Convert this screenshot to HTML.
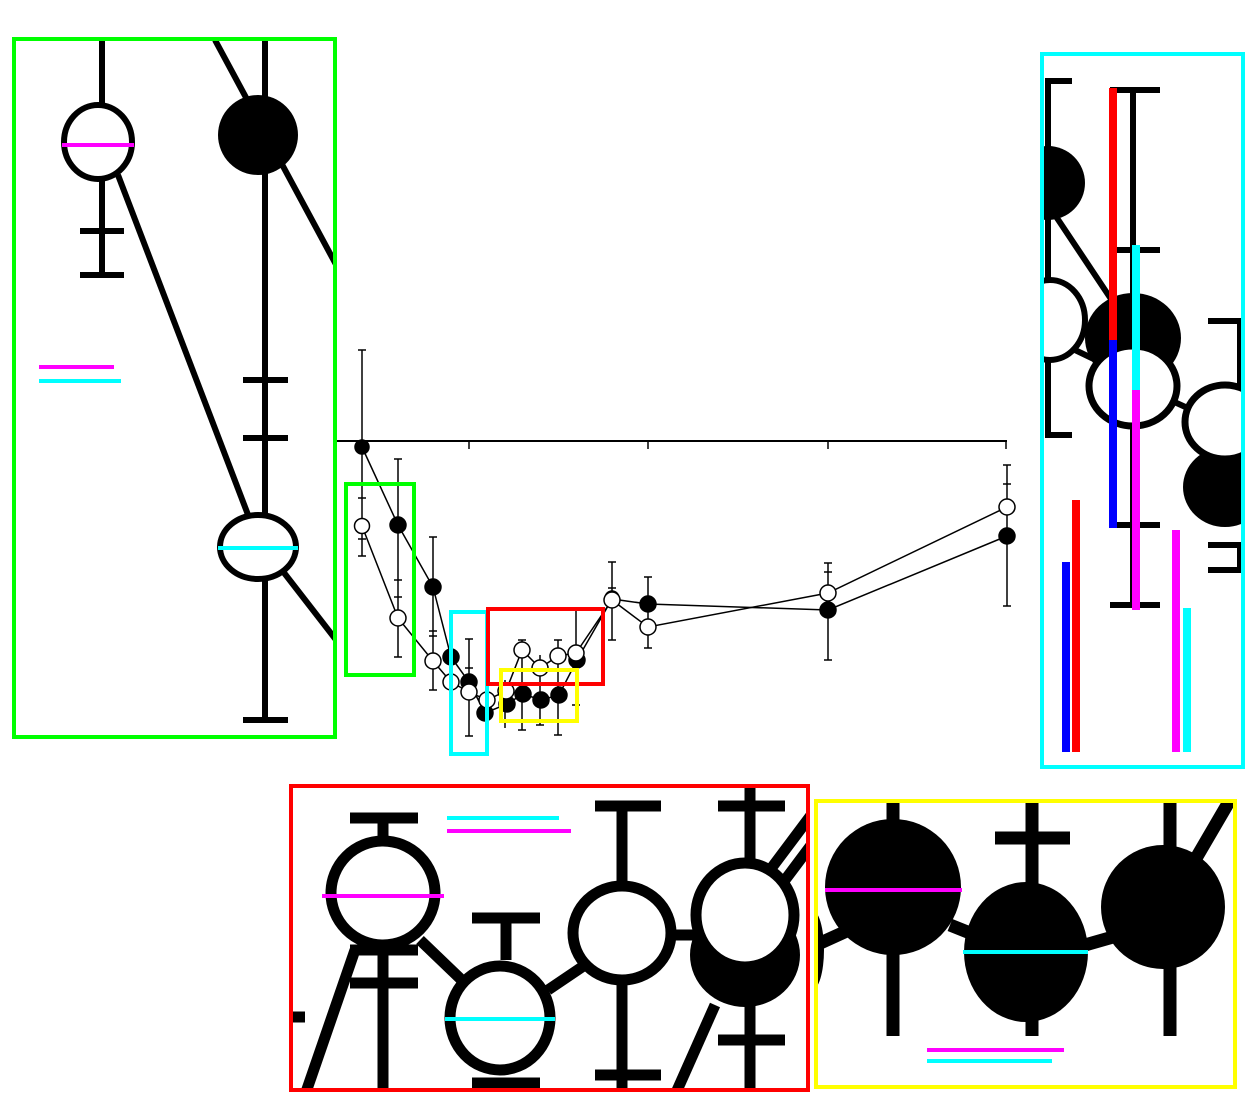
<!DOCTYPE html>
<html><head><meta charset="utf-8"><style>html,body{margin:0;padding:0;background:#fff;}svg{display:block}</style></head>
<body>
<svg width="1260" height="1109" viewBox="0 0 1260 1109" xmlns="http://www.w3.org/2000/svg">
<rect width="1260" height="1109" fill="#fff"/>
<!-- main chart -->
<g stroke="#000" stroke-width="1.5" fill="none">
<line x1="337" y1="441" x2="1007" y2="441" stroke-width="2"/>
<line x1="469" y1="441" x2="469" y2="449"/><line x1="648" y1="441" x2="648" y2="449"/><line x1="828" y1="441" x2="828" y2="449"/><line x1="1006" y1="441" x2="1006" y2="449"/>
<!-- error bars -->
<path d="M362 350V556M358 350h8M358 498h8M358 556h8M358 539h8
M398 459V657M394 459h8M394 657h8M394 580h8M394 597h8
M433 537V690M429 537h8M429 690h8M429 636h8M429 631h8
M451 640V700M469 639V736M465 639h8M465 736h8M465 668h8M487 690V728M505 680V728
M522 640V730M518 640h8M518 730h8M540 655V725M536 725h8M558 640V735M554 640h8M554 735h8
M576 608V710M572 608h8M572 705h8
M612 562V640M608 562h8M608 640h8M608 588h8
M648 577V648M644 577h8M644 648h8
M828 563V660M824 563h8M824 660h8M824 572h8
M1007 465V606M1003 465h8M1003 606h8M1003 484h8"/>
<polyline points="362,447 398,525 433,587 451,657 469,682 485,713 507,704 523,694 541,700 559,695 577,660 612,599 648,604 828,610 1007,536"/>
<polyline points="362,526 398,618 433,661 451,682 469,692 487,700 506,691 522,650 540,668 558,656 576,653 612,600 648,627 828,593 1007,507"/>
</g>
<g stroke="#000" stroke-width="1.5">
<g fill="#000"><circle cx="362" cy="447" r="7"/><circle cx="398" cy="525" r="8"/><circle cx="433" cy="587" r="8"/><circle cx="451" cy="657" r="8"/><circle cx="469" cy="682" r="8"/><circle cx="485" cy="713" r="8"/><circle cx="507" cy="704" r="8"/><circle cx="523" cy="694" r="8"/><circle cx="541" cy="700" r="8"/><circle cx="559" cy="695" r="8"/><circle cx="577" cy="660" r="8"/><circle cx="648" cy="604" r="8"/><circle cx="828" cy="610" r="8"/><circle cx="1007" cy="536" r="8"/><circle cx="612" cy="598" r="7"/></g>
<g fill="#fff"><circle cx="362" cy="526" r="7.5"/><circle cx="398" cy="618" r="8"/><circle cx="433" cy="661" r="8"/><circle cx="451" cy="682" r="8"/><circle cx="469" cy="692" r="8"/><circle cx="487" cy="700" r="8"/><circle cx="506" cy="691" r="8"/><circle cx="522" cy="650" r="8"/><circle cx="540" cy="668" r="8"/><circle cx="558" cy="656" r="8"/><circle cx="576" cy="653" r="8"/><circle cx="612" cy="600" r="8"/><circle cx="648" cy="627" r="8"/><circle cx="828" cy="593" r="8"/><circle cx="1007" cy="507" r="8"/></g>
</g>
<g fill="none" stroke-width="4">
<rect x="346" y="484" width="68" height="191" stroke="#00ff00"/>
<rect x="451" y="612" width="36" height="142" stroke="#00ffff"/>
<rect x="488" y="609" width="115" height="75" stroke="#ff0000"/>
<rect x="501" y="670" width="76" height="51" stroke="#ffff00"/>
</g>

<!-- green inset -->
<svg x="14" y="39" width="321" height="698" viewBox="14 39 321 698">
<g stroke="#000" stroke-width="6" fill="none">
<line x1="102" y1="40" x2="102" y2="105"/><line x1="102" y1="180" x2="102" y2="275"/><line x1="80" y1="231" x2="124" y2="231"/><line x1="80" y1="275" x2="124" y2="275"/>
<line x1="265" y1="40" x2="265" y2="720"/><line x1="243" y1="380" x2="288" y2="380"/><line x1="243" y1="438" x2="288" y2="438"/><line x1="243" y1="720" x2="288" y2="720"/>
<line x1="215" y1="40" x2="340" y2="272"/><line x1="118" y1="175" x2="250" y2="520"/><line x1="278" y1="565" x2="340" y2="645"/>
<ellipse cx="98" cy="142" rx="34" ry="37" fill="#fff"/>
<ellipse cx="258" cy="547" rx="38" ry="32" fill="#fff"/>
</g>
<ellipse cx="258" cy="135" rx="40" ry="40" fill="#000"/>
<line x1="62" y1="145" x2="134" y2="145" stroke="#ff00ff" stroke-width="4"/>
<line x1="218" y1="548" x2="298" y2="548" stroke="#00ffff" stroke-width="4"/>
<line x1="39" y1="367" x2="114" y2="367" stroke="#ff00ff" stroke-width="4"/>
<line x1="39" y1="381" x2="121" y2="381" stroke="#00ffff" stroke-width="4"/>
</svg>
<rect x="14" y="39" width="321" height="698" fill="none" stroke="#00ff00" stroke-width="4"/>

<!-- cyan inset -->
<svg x="1042" y="54" width="201" height="713" viewBox="1042 54 201 713">
<g stroke="#000" stroke-width="6" fill="none">
<path d="M1072 81H1048V435H1072"/>
<path d="M1110 90H1160M1133 90V605M1110 250H1160M1110 525H1160M1110 605H1160"/>
<path d="M1208 321H1240V440M1208 545H1240V570H1208"/>
<line x1="1055" y1="215" x2="1115" y2="305"/>
<line x1="1075" y1="350" x2="1100" y2="362"/>
<line x1="1170" y1="400" x2="1192" y2="410"/>
<ellipse cx="1050" cy="320" rx="35" ry="40" fill="#fff"/>
</g>
<ellipse cx="1048" cy="183" rx="37" ry="37" fill="#000"/>
<ellipse cx="1133" cy="338" rx="48" ry="45" fill="#000"/>
<ellipse cx="1133" cy="386" rx="44" ry="40" fill="#fff" stroke="#000" stroke-width="7"/>
<ellipse cx="1225" cy="487" rx="42" ry="40" fill="#000"/>
<ellipse cx="1225" cy="422" rx="40" ry="37" fill="#fff" stroke="#000" stroke-width="7"/>
<g stroke-width="8">
<line x1="1113" y1="88" x2="1113" y2="340" stroke="#ff0000"/>
<line x1="1113" y1="340" x2="1113" y2="528" stroke="#0000ff"/>
<line x1="1136" y1="245" x2="1136" y2="390" stroke="#00ffff"/>
<line x1="1136" y1="390" x2="1136" y2="610" stroke="#ff00ff"/>
<line x1="1066" y1="562" x2="1066" y2="752" stroke="#0000ff"/>
<line x1="1076" y1="500" x2="1076" y2="752" stroke="#ff0000"/>
<line x1="1176" y1="530" x2="1176" y2="752" stroke="#ff00ff"/>
<line x1="1187" y1="608" x2="1187" y2="752" stroke="#00ffff"/>
</g>
</svg>
<rect x="1042" y="54" width="201" height="713" fill="none" stroke="#00ffff" stroke-width="4"/>

<!-- red inset -->
<svg x="291" y="786" width="517" height="304" viewBox="291 786 517 304">
<g stroke="#000" stroke-width="11" fill="none">
<path d="M350 818H418M383 818V840M383 945V1090M350 983H418M350 950H418"/>
<path d="M355 950L305 1095"/>
<path d="M291 1017H305"/>
<path d="M472 918H540M506 918V960M472 1083H540"/>
<path d="M622 806V885M595 806H661M622 985V1090M595 1075H661"/>
<path d="M750 786V860M718 806H785M750 1005V1090M718 1040H785"/>
<path d="M420 940L470 988M548 990L585 965M670 935H700"/>
<path d="M715 1005L675 1095"/>
<path d="M770 870L815 810M785 880L815 840"/>
</g>
<ellipse cx="745" cy="955" rx="55" ry="52" fill="#000"/>
<circle cx="383" cy="893" r="52" fill="#fff" stroke="#000" stroke-width="11"/>
<ellipse cx="500" cy="1018" rx="50" ry="52" fill="#fff" stroke="#000" stroke-width="11"/>
<ellipse cx="622" cy="933" rx="49" ry="47" fill="#fff" stroke="#000" stroke-width="11"/>
<ellipse cx="745" cy="915" rx="49" ry="52" fill="#fff" stroke="#000" stroke-width="11"/>
<line x1="322" y1="896" x2="444" y2="896" stroke="#ff00ff" stroke-width="4"/>
<line x1="445" y1="1019" x2="555" y2="1019" stroke="#00ffff" stroke-width="4"/>
<line x1="447" y1="818" x2="559" y2="818" stroke="#00ffff" stroke-width="4"/>
<line x1="447" y1="831" x2="571" y2="831" stroke="#ff00ff" stroke-width="4"/>
</svg>
<rect x="291" y="786" width="517" height="304" fill="none" stroke="#ff0000" stroke-width="4"/>

<!-- yellow inset -->
<svg x="816" y="801" width="419" height="286" viewBox="816 801 419 286">
<g stroke="#000" stroke-width="13" fill="none">
<path d="M893 801V1036M1032 801V1036M995 838H1070M1170 801V1036M1195 860L1230 800"/>
<path d="M816 945L860 925M950 925L975 935M1085 945L1120 935"/>
</g>
<ellipse cx="893" cy="887" rx="68" ry="68" fill="#000"/>
<ellipse cx="1026" cy="952" rx="62" ry="70" fill="#000"/>
<ellipse cx="1163" cy="907" rx="62" ry="62" fill="#000"/>
<ellipse cx="812" cy="950" rx="12" ry="40" fill="#000"/>
<line x1="825" y1="890" x2="962" y2="890" stroke="#ff00ff" stroke-width="4"/>
<line x1="963" y1="952" x2="1088" y2="952" stroke="#00ffff" stroke-width="4"/>
<line x1="927" y1="1050" x2="1064" y2="1050" stroke="#ff00ff" stroke-width="4"/>
<line x1="927" y1="1061" x2="1052" y2="1061" stroke="#00ffff" stroke-width="4"/>
</svg>
<rect x="816" y="801" width="419" height="286" fill="none" stroke="#ffff00" stroke-width="4"/>
</svg>
</body></html>
